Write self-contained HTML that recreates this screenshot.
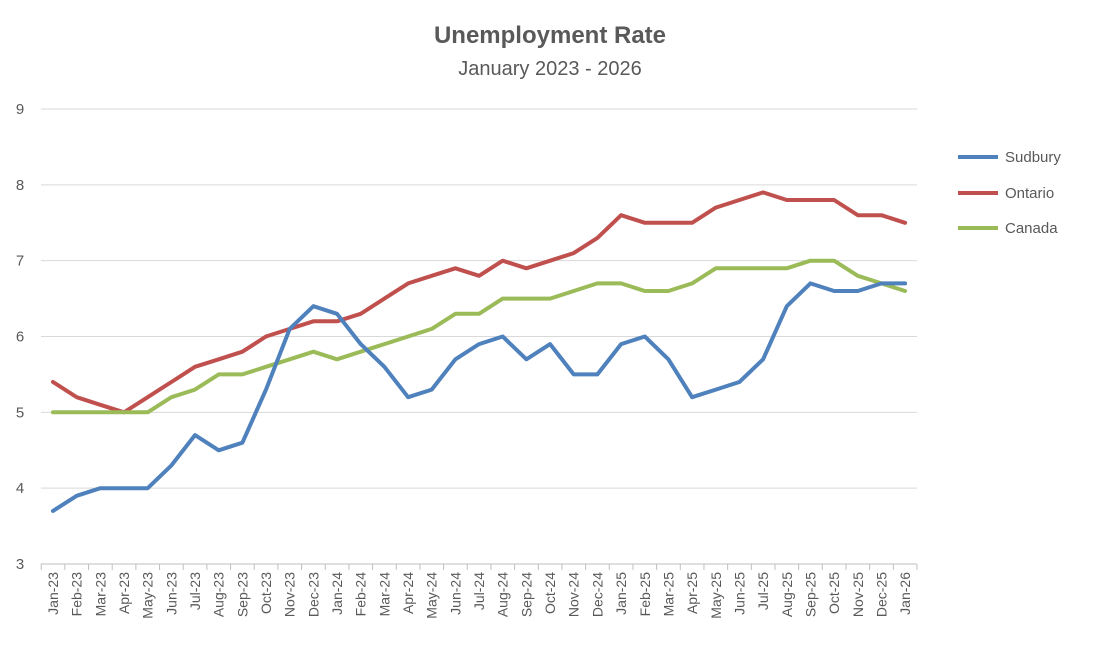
<!DOCTYPE html>
<html><head><meta charset="utf-8"><style>
body{margin:0;background:#fff}
svg text{font-family:"Liberation Sans",Arial,sans-serif;fill:#595959}
</style></head><body>
<svg id="c" width="1100" height="649" xmlns="http://www.w3.org/2000/svg">
<text x="550" y="43" text-anchor="middle" font-size="24" font-weight="bold">Unemployment Rate</text>
<text x="550" y="75" text-anchor="middle" font-size="20">January 2023 - 2026</text>
<g id="g"></g>
<line x1="958" y1="157" x2="998" y2="157" stroke="#4F81BD" stroke-width="4"/>
<text x="1005" y="162" font-size="15">Sudbury</text>
<line x1="958" y1="193" x2="998" y2="193" stroke="#C0504D" stroke-width="4"/>
<text x="1005" y="198" font-size="15">Ontario</text>
<line x1="958" y1="228" x2="998" y2="228" stroke="#9BBB59" stroke-width="4"/>
<text x="1005" y="233" font-size="15">Canada</text>
</svg>
<script>
var g=document.getElementById('g'),ns='http://www.w3.org/2000/svg',h='';
function Y(v){return 564-(v-3)*75.83}
function X(i){return 53+i*23.67}
for(var v=3;v<=9;v++){var y=Y(v);
 if(v>3)h+='<line x1="41" x2="917" y1="'+y+'" y2="'+y+'" stroke="#d9d9d9" stroke-width="1"/>';
 h+='<text x="20" y="'+(y+5)+'" text-anchor="middle" font-size="15">'+v+'</text>';}
h+='<line x1="41" x2="917" y1="564" y2="564" stroke="#bfbfbf"/>';
var m=['Jan','Feb','Mar','Apr','May','Jun','Jul','Aug','Sep','Oct','Nov','Dec'];
for(var i=0;i<=37;i++){var tx=X(i)-11.8;h+='<line x1="'+tx+'" x2="'+tx+'" y1="564" y2="570" stroke="#bfbfbf"/>';}
for(var i=0;i<37;i++){var lab=m[i%12]+'-'+(23+Math.floor(i/12));
 h+='<text transform="translate('+(X(i)+5)+',572) rotate(-90)" text-anchor="end" font-size="14">'+lab+'</text>';}
var d={"#4F81BD":[3.7,3.9,4.0,4.0,4.0,4.3,4.7,4.5,4.6,5.3,6.1,6.4,6.3,5.9,5.6,5.2,5.3,5.7,5.9,6.0,5.7,5.9,5.5,5.5,5.9,6.0,5.7,5.2,5.3,5.4,5.7,6.4,6.7,6.6,6.6,6.7,6.7],
"#C0504D":[5.4,5.2,5.1,5.0,5.2,5.4,5.6,5.7,5.8,6.0,6.1,6.2,6.2,6.3,6.5,6.7,6.8,6.9,6.8,7.0,6.9,7.0,7.1,7.3,7.6,7.5,7.5,7.5,7.7,7.8,7.9,7.8,7.8,7.8,7.6,7.6,7.5],
"#9BBB59":[5.0,5.0,5.0,5.0,5.0,5.2,5.3,5.5,5.5,5.6,5.7,5.8,5.7,5.8,5.9,6.0,6.1,6.3,6.3,6.5,6.5,6.5,6.6,6.7,6.7,6.6,6.6,6.7,6.9,6.9,6.9,6.9,7.0,7.0,6.8,6.7,6.6]};
["#C0504D","#9BBB59","#4F81BD"].forEach(function(c){var p=d[c].map(function(v,i){return X(i).toFixed(1)+','+Y(v).toFixed(1)}).join(' ');
h+='<polyline points="'+p+'" fill="none" stroke="'+c+'" stroke-width="4" stroke-linejoin="round" stroke-linecap="round"/>';});
g.innerHTML=h;
</script>
</body></html>
